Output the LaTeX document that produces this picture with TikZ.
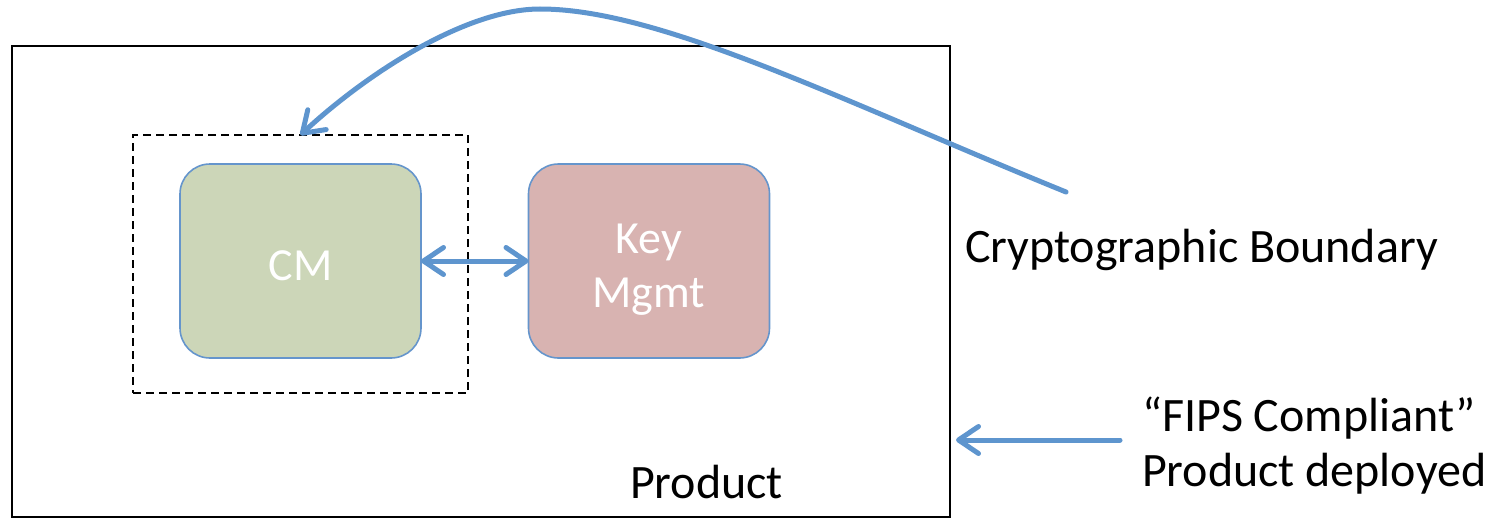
\documentclass[tikz,border=0pt]{standalone}
\usepackage{fontspec}
\setmainfont{Carlito}
\usetikzlibrary{arrows.meta}
\definecolor{linkblue}{HTML}{5E95CE}
\definecolor{boxedge}{HTML}{6595CC}
\definecolor{cmgreen}{HTML}{CCD6B8}
\definecolor{keyrose}{HTML}{D8B3B1}
\tikzset{barb/.tip={Straight Barb[length=20pt,width=27pt,round]}}
\begin{document}
\begin{tikzpicture}[x=1pt,y=-1pt,
  module/.style={draw=boxedge, line width=1.6pt, rounded corners=30pt,
    minimum width=241pt, minimum height=194pt, inner sep=0pt, outer sep=0pt},
  modtext/.style={text=white, font=\fontsize{46}{54}\selectfont, align=center},
  frame/.style={draw=black, line width=1.8pt, inner sep=0pt, outer sep=0pt},
  caption/.style={inner sep=0pt, outer sep=0pt, font=\fontsize{48}{56}\selectfont},
  link/.style={draw=linkblue, line width=5pt, line cap=round}]
\useasboundingbox (0,0) rectangle (1499,519);

% product enclosure and the cryptographic boundary
\node[frame, minimum width=938pt, minimum height=471pt] (product) at (481,281.5) {};
\node[frame, line width=1.5pt, dash pattern=on 8pt off 5pt,
      minimum width=335pt, minimum height=258pt] (boundary) at (300.5,264) {};

% modules
\node[module, fill=cmgreen,
      label={[modtext, yshift=-5pt]center:CM}] (cm) at (300.5,261) {};
\node[module, fill=keyrose,
      label={[modtext, yshift=-9pt]center:Key\\Mgmt}] (key) at (649,261) {};

% labels
\node[caption, anchor=base west] (prodlabel) at (630,498) {Product};
\node[caption, anchor=base west] (cblabel) at (965,262) {Cryptographic Boundary};
\node[caption, anchor=base west] (fipsa) at (1142,431) {“FIPS Compliant”};
\node[caption, anchor=base west] (fipsb) at (1142,486) {Product deployed};

% connectors
\coordinate (cbtail) at (1066,192);
\coordinate (fipstail) at (1120,440);
\draw[link, {barb}-{barb}] (cm.east) -- (key.west);
\draw[link, -{barb}] (cbtail) .. controls (840,100) and (660,9) .. (540,9)
      .. controls (465,9) and (365,75) .. (boundary.north);
\draw[link, -{barb}] (fipstail) -- ([xshift=6pt]fipstail -| product.east);
\end{tikzpicture}
\end{document}
